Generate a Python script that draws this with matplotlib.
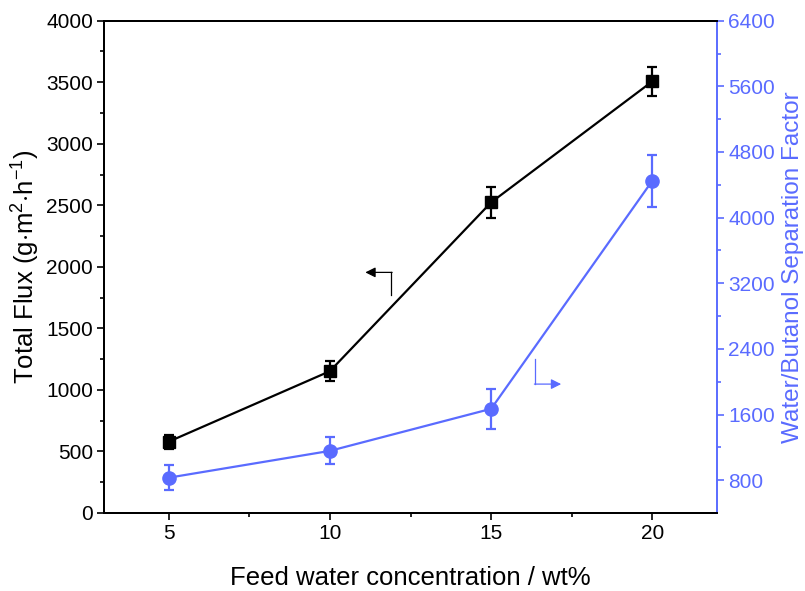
import matplotlib
matplotlib.use("Agg")
import matplotlib.pyplot as plt
import numpy as np

plt.rcParams['font.family'] = ['Liberation Sans', 'DejaVu Sans']
plt.rcParams['mathtext.fontset'] = 'custom'
plt.rcParams['mathtext.rm'] = 'Liberation Sans'
plt.rcParams['mathtext.it'] = 'Liberation Sans:italic'

# data
conc = [5, 10, 15, 20]
flux = [579, 1152, 2524, 3508]
flux_err = [55, 82, 125, 116]
sep = [830, 1157, 1670, 4452]
sep_err = [150, 165, 243, 317]

x_ticks = [5, 10, 15, 20]
left_ticks = [0, 500, 1000, 1500, 2000, 2500, 3000, 3500, 4000]
right_ticks = [800, 1600, 2400, 3200, 4000, 4800, 5600, 6400]

BLUE = '#5a6bff'

fig = plt.figure(figsize=(8.05, 5.91), dpi=100)
W, H = 805, 591
ax = fig.add_axes([104 / W, 1 - 513 / H, (717 - 104) / W, (513 - 20.7) / H])
ax2 = ax.twinx()

ax.errorbar(conc, flux, yerr=flux_err, color='black', marker='s', markersize=8.5,
            linewidth=1.6, elinewidth=1.6, capsize=3.5, capthick=1.6, zorder=3)
ax2.errorbar(conc, sep, yerr=sep_err, color=BLUE, marker='o', markersize=9.5,
             linewidth=1.6, elinewidth=1.6, capsize=3.5, capthick=1.6, zorder=3)

ax.set_xlim(3, 22)
ax.set_ylim(0, 4000)
ax2.set_ylim(400, 6400)

ax.set_xticks(x_ticks)
ax.set_xticks([7.5, 12.5, 17.5], minor=True)
ax.set_yticks(left_ticks)
ax.set_yticks(np.arange(250, 4000, 500), minor=True)
ax2.set_yticks(right_ticks)
ax2.set_yticks(np.arange(1200, 6400, 800), minor=True)

ax.tick_params(axis='both', which='major', direction='out', length=5, width=1.2,
               labelsize=15, top=False, right=False, pad=3)
ax.tick_params(axis='both', which='minor', direction='out', length=3, width=1.2,
               top=False, right=False)
ax2.tick_params(axis='y', which='major', direction='out', length=5, width=1.2,
                labelsize=15, colors=BLUE, pad=3)
ax2.tick_params(axis='y', which='minor', direction='out', length=3, width=1.2,
                colors=BLUE)

for sp in ['left', 'bottom', 'top']:
    ax.spines[sp].set_linewidth(1.4)
    ax2.spines[sp].set_linewidth(1.4)
ax2.spines['right'].set_color(BLUE)
ax2.spines['right'].set_linewidth(1.4)
ax.spines['right'].set_visible(False)

ax.set_xlabel('Feed water concentration / wt%', fontsize=18.5)
ax.set_ylabel('Total Flux (g$\\cdot$m$^{2}$$\\cdot$h$^{-1}$)', fontsize=18.5)
ax2.set_ylabel('Water/Butanol Separation Factor', fontsize=17.5, color=BLUE)
ax.xaxis.set_label_coords(0.5, -0.108)
ax.yaxis.set_label_coords(-0.101, 0.5)
ax2.yaxis.set_label_coords(1.106, 0.5)

# indicator arrows
ax.plot([11.9, 11.9], [1771, 1955], color='black', linewidth=0.9)
ax.annotate('', xy=(11.1, 1955), xytext=(11.93, 1955),
            arrowprops=dict(arrowstyle='-|>', color='black', lw=0.9,
                            mutation_scale=15, shrinkA=0, shrinkB=0))
ax2.plot([16.37, 16.37], [2276, 1971], color=BLUE, linewidth=0.9)
ax2.annotate('', xy=(17.17, 1971), xytext=(16.34, 1971),
             arrowprops=dict(arrowstyle='-|>', color=BLUE, lw=0.9,
                             mutation_scale=15, shrinkA=0, shrinkB=0))

fig.savefig('out.png', dpi=100)
